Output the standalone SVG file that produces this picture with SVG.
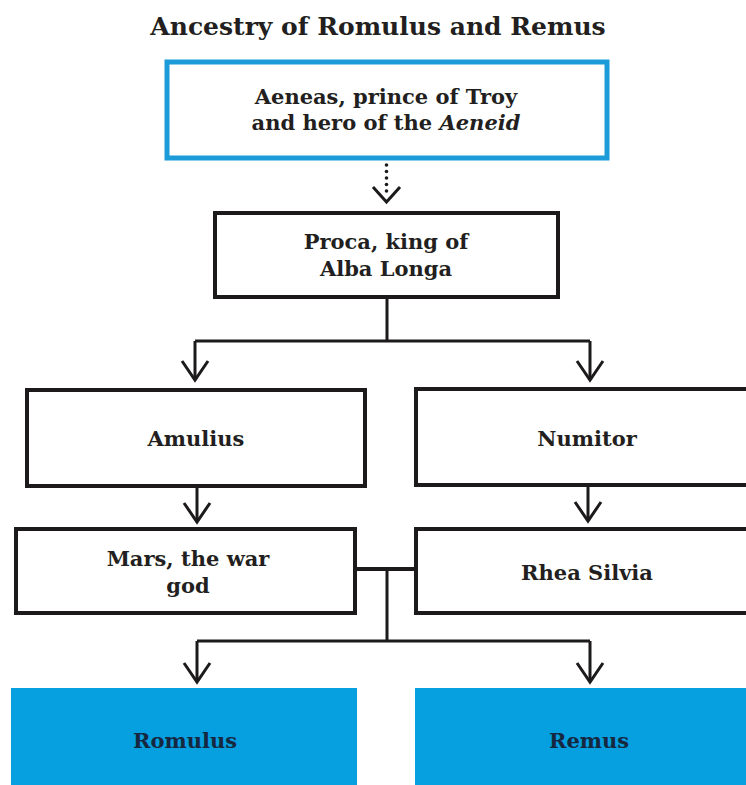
<svg xmlns="http://www.w3.org/2000/svg" width="746" height="785" viewBox="0 0 746 785">
  <defs>
    <marker id="vhead" markerUnits="userSpaceOnUse" markerWidth="30" markerHeight="30" refX="0" refY="0" orient="auto" overflow="visible">
      <path d="M-19,-13 L0,0 L-19,13" fill="none" stroke="#1c1a1a" stroke-width="3" stroke-linejoin="miter"/>
    </marker>
    <style>
      .t { font-family: "DejaVu Serif", "Liberation Serif", serif; font-weight: bold; fill: #231f20; text-anchor: middle; }
      .title { font-size: 25px; }
      .lbl { font-size: 21px; }
      .box { fill: #ffffff; stroke: #1c1a1a; stroke-width: 4; }
      .bluebox { fill: #ffffff; stroke: #1b9bd7; stroke-width: 5; }
      .filled { fill: #069fdf; stroke: none; }
      .ftxt { fill: #16283f; }
      .ln { fill: none; stroke: #1c1a1a; stroke-width: 3; }
      .arr { fill: none; stroke: #1c1a1a; stroke-width: 3; marker-end: url(#vhead); }
    </style>
  </defs>
  <rect width="746" height="785" fill="#ffffff"/>

  <text class="t title" x="378" y="35">Ancestry of Romulus and Remus</text>

  <g id="connectors">
    <g fill="#1c1a1a">
      <circle cx="386.5" cy="165" r="1.8"/>
      <circle cx="386.5" cy="171.5" r="1.8"/>
      <circle cx="386.5" cy="178" r="1.8"/>
      <circle cx="386.5" cy="184.5" r="1.8"/>
      <circle cx="386.5" cy="191" r="1.8"/>
    </g>
    <path d="M373,187 L386.5,202 L400,187" fill="none" stroke="#1c1a1a" stroke-width="3"/>
    <path class="ln" d="M387,297 V341 M195,341 H590"/>
    <path class="arr" d="M195,341 V380"/>
    <path class="arr" d="M590,341 V380"/>
    <path class="arr" d="M197,486 V522"/>
    <path class="arr" d="M588,485 V521"/>
    <path d="M355,569 H416" fill="none" stroke="#1c1a1a" stroke-width="4"/>
    <path class="ln" d="M387,569 V641 M197,641 H590"/>
    <path class="arr" d="M197,641 V682"/>
    <path class="arr" d="M590,641 V682"/>
  </g>

  <g id="aeneas">
    <rect class="bluebox" x="167" y="62" width="440" height="96"/>
    <text class="t lbl" x="386" y="104">Aeneas, prince of Troy</text>
    <text class="t lbl" x="386" y="130">and hero of the <tspan font-style="italic">Aeneid</tspan></text>
  </g>

  <g id="proca">
    <rect class="box" x="215" y="213" width="343" height="84"/>
    <text class="t lbl" x="386" y="249">Proca, king of</text>
    <text class="t lbl" x="386" y="276">Alba Longa</text>
  </g>

  <g id="amulius">
    <rect class="box" x="27" y="390" width="338" height="96"/>
    <text class="t lbl" x="196" y="446">Amulius</text>
  </g>

  <g id="numitor">
    <rect class="box" x="416" y="389" width="345" height="96"/>
    <text class="t lbl" x="587" y="446">Numitor</text>
  </g>

  <g id="mars">
    <rect class="box" x="16" y="529" width="339" height="84"/>
    <text class="t lbl" x="188" y="566">Mars, the war</text>
    <text class="t lbl" x="188" y="593">god</text>
  </g>

  <g id="rhea">
    <rect class="box" x="416" y="529" width="345" height="84"/>
    <text class="t lbl" x="587" y="580">Rhea Silvia</text>
  </g>

  <g id="romulus">
    <rect class="filled" x="11" y="688" width="346" height="100"/>
    <text class="t lbl ftxt" x="185" y="748">Romulus</text>
  </g>

  <g id="remus">
    <rect class="filled" x="415" y="688" width="340" height="100"/>
    <text class="t lbl ftxt" x="589" y="748">Remus</text>
  </g>
</svg>
